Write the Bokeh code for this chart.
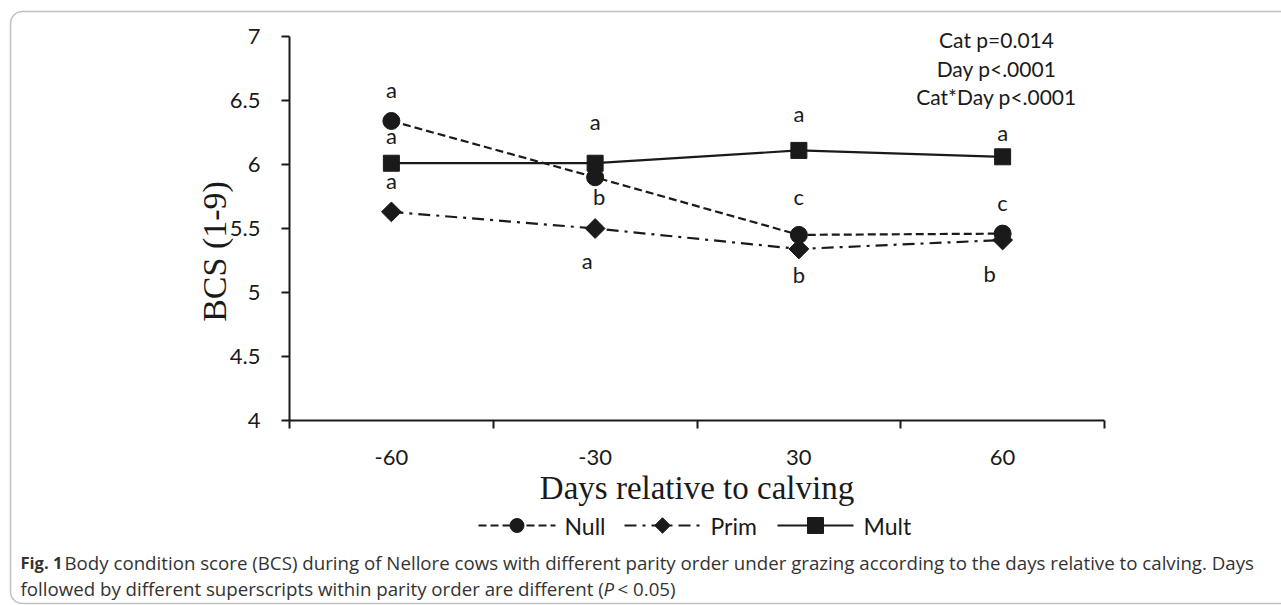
import math

from bokeh.plotting import figure
from bokeh.models import (ColumnDataSource, FixedTicker, Range1d, Label,
                          BoxAnnotation, LinearAxis)
from bokeh.core.properties import value
from bokeh.embed import file_html
from bokeh.resources import INLINE

# ---- data -------------------------------------------------------------
days = ["-60", "-30", "30", "60"]
null_bcs = [6.34, 5.90, 5.45, 5.46]
prim_bcs = [5.63, 5.50, 5.34, 5.41]
mult_bcs = [6.01, 6.01, 6.11, 6.06]
null_letters = ["a", "b", "c", "c"]
prim_letters = ["a", "a", "b", "b"]
mult_letters = ["a", "a", "a", "a"]
series_names = ["Null", "Prim", "Mult"]
bcs_ticks = [4, 4.5, 5, 5.5, 6, 6.5, 7]
bcs_tick_labels = ["4", "4.5", "5", "5.5", "6", "6.5", "7"]
stats_lines = ["Cat p=0.014", "Day p<.0001", "Cat*Day p<.0001"]

# superscript letter placement, in pixels (screen direction)
null_dx = [0, 4, 0, 0]
null_dy = [-31, 19, -38, -31]
prim_dx = [0, -8, 0, -13]
prim_dy = [-31, 32, 26, 33]
mult_dx = [0, 0, 0, 0]
mult_dy = [-28, -42, -37, -24]

# ---- geometry ---------------------------------------------------------
# The plotting frame covers the whole canvas; the chart area is the
# pixel box below, and the axes are pinned to its edges.
W, H = 1281, 605
A_LEFT, A_RIGHT, A_TOP, A_BOTTOM = 289, 1104, 36, 420
X0, X1 = 0, len(days)
Y0, Y1 = 4, 7
PX_PER_X = (A_RIGHT - A_LEFT) / (X1 - X0)
PX_PER_Y = (A_BOTTOM - A_TOP) / (Y1 - Y0)


def px_x(sx):
    return X0 + (sx - A_LEFT) / PX_PER_X


def px_y(sy):
    return Y1 - (sy - A_TOP) / PX_PER_Y


INK = "#1a1a1a"
SANS = value("Lato")
SERIF = "Liberation Serif"

xs = [i + 0.5 for i in range(len(days))]

p = figure(width=W, height=H, output_backend="svg", toolbar_location=None,
           x_range=Range1d(px_x(0), px_x(W)), y_range=Range1d(px_y(H), px_y(0)),
           title=None, x_axis_location=None, y_axis_location=None,
           min_border=0, min_border_left=0, min_border_right=0,
           min_border_top=0, min_border_bottom=0)
p.outline_line_color = None
p.grid.visible = False
p.background_fill_color = "white"
p.border_fill_color = "white"

# ---- axes -------------------------------------------------------------
ya = LinearAxis(fixed_location=X0, bounds=(Y0, Y1))
ya.ticker = FixedTicker(ticks=bcs_ticks)
ya.major_label_overrides = {t: s for t, s in zip(bcs_ticks, bcs_tick_labels)}
ya.minor_tick_line_color = None
ya.major_tick_in = 0
ya.major_tick_out = 8
ya.major_tick_line_width = 2
ya.major_tick_line_color = INK
ya.axis_line_width = 2
ya.axis_line_color = INK
ya.major_label_standoff = 21
ya.major_label_text_font = "Lato"
ya.major_label_text_font_size = "22px"
ya.major_label_text_color = INK
p.add_layout(ya, "left")

# y-axis title sits a little below the middle of the axis
p.add_layout(Label(x=px_x(214), y=px_y(251), text="BCS (1-9)",
                   angle=math.pi / 2, text_font=SERIF, text_font_size="34px",
                   text_color=INK, text_align="center",
                   text_baseline="middle"))

xa = LinearAxis(fixed_location=Y0, bounds=(X0, X1))
xa.ticker = FixedTicker(ticks=xs, minor_ticks=list(range(X0, X1 + 1)))
xa.major_label_overrides = {x: d for x, d in zip(xs, days)}
xa.major_tick_line_color = None
xa.major_tick_in = 0
xa.major_tick_out = 0
xa.minor_tick_in = 0
xa.minor_tick_out = 8
xa.minor_tick_line_width = 2
xa.minor_tick_line_color = INK
xa.axis_line_width = 2
xa.axis_line_color = INK
xa.major_label_standoff = 21
xa.major_label_text_font = "Lato"
xa.major_label_text_font_size = "22px"
xa.major_label_text_color = INK
xa.axis_label = "Days relative to calving"
xa.axis_label_text_font = SERIF
xa.axis_label_text_font_size = "33px"
xa.axis_label_text_font_style = "normal"
xa.axis_label_text_color = INK
xa.axis_label_standoff = 2
p.add_layout(xa, "below")

# ---- series -----------------------------------------------------------
src = ColumnDataSource(dict(
    x=xs, null=null_bcs, prim=prim_bcs, mult=mult_bcs,
    null_t=null_letters, prim_t=prim_letters, mult_t=mult_letters,
    null_dx=null_dx, null_dy=null_dy, prim_dx=prim_dx, prim_dy=prim_dy,
    mult_dx=mult_dx, mult_dy=mult_dy,
))

STYLE = {
    "Null": dict(dash="8 4", marker="circle", size=17, angle=0.0),
    "Prim": dict(dash="12 6 3 6", marker="square", size=14, angle=math.pi / 4),
    "Mult": dict(dash="solid", marker="square", size=16, angle=0.0),
}

for name in series_names:
    key = name.lower()
    st = STYLE[name]
    p.line("x", key, source=src, line_color=INK, line_width=2.2,
           line_dash=st["dash"])
    p.scatter("x", key, source=src, marker=st["marker"], size=st["size"],
              angle=st["angle"], fill_color=INK, line_color=INK)

for name in series_names:
    key = name.lower()
    p.text(x="x", y=key, text=f"{key}_t", x_offset=f"{key}_dx",
           y_offset=f"{key}_dy", source=src, text_font=SANS,
           text_font_size="22px", text_color=INK, text_align="center",
           text_baseline="middle")

# ---- statistics block -------------------------------------------------
for line_text, sy in zip(stats_lines, [39, 68, 96]):
    p.add_layout(Label(x=px_x(996), y=px_y(sy), text=line_text,
                       text_font="Lato", text_font_size="21px",
                       text_color=INK, text_align="center",
                       text_baseline="middle"))

# ---- legend (drawn as sample glyphs under the axis title) -------------
LEG_Y = px_y(525)
leg_slots = {"Null": (478, 555, 564), "Prim": (624, 700, 710),
             "Mult": (777, 853, 863)}
leg_marker_size = {"Null": 14, "Prim": 11, "Mult": 16}
for name in series_names:
    st = STYLE[name]
    x_start, x_end, x_text = leg_slots[name]
    p.line([px_x(x_start), px_x(x_end)], [LEG_Y, LEG_Y], line_color=INK,
           line_width=2.2, line_dash=st["dash"])
    p.scatter([px_x((x_start + x_end) / 2)], [LEG_Y], marker=st["marker"],
              size=leg_marker_size[name], angle=st["angle"], fill_color=INK,
              line_color=INK)
    p.text([px_x(x_text)], [LEG_Y], text=[name], text_font=SANS,
           text_font_size="23px", text_color=INK, text_align="left",
           text_baseline="middle")

# ---- caption ----------------------------------------------------------
CAP = "#333333"
cap_font = "Open Sans"
cap_size = "18.7px"
p.add_layout(Label(x=px_x(20), y=px_y(562), text="Fig. 1", text_font=cap_font,
                   text_font_size="16.5px", text_font_style="bold",
                   text_color=CAP, text_baseline="middle"))
p.add_layout(Label(x=px_x(64), y=px_y(562),
                   text="Body condition score (BCS) during of Nellore cows with "
                        "different parity order under grazing according to the "
                        "days relative to calving. Days",
                   text_font=cap_font, text_font_size=cap_size, text_color=CAP,
                   text_baseline="middle"))
p.add_layout(Label(x=px_x(20), y=px_y(588),
                   text="followed by different superscripts within parity "
                        "order are different (",
                   text_font=cap_font, text_font_size=cap_size, text_color=CAP,
                   text_baseline="middle"))
p.add_layout(Label(x=px_x(603), y=px_y(588), text="P", text_font=cap_font,
                   text_font_size=cap_size, text_font_style="italic",
                   text_color=CAP, text_baseline="middle"))
p.add_layout(Label(x=px_x(617), y=px_y(588), text="< 0.05)",
                   text_font=cap_font, text_font_size=cap_size, text_color=CAP,
                   text_baseline="middle"))

# ---- rounded frame around the figure ----------------------------------
p.add_layout(BoxAnnotation(left=px_x(10), right=px_x(1320), top=px_y(11),
                           bottom=px_y(603), fill_color=None, fill_alpha=0,
                           line_color="#333333", line_width=1.5,
                           border_radius=12, level="underlay"))

open("out.html", "w").write(file_html(p, INLINE))
